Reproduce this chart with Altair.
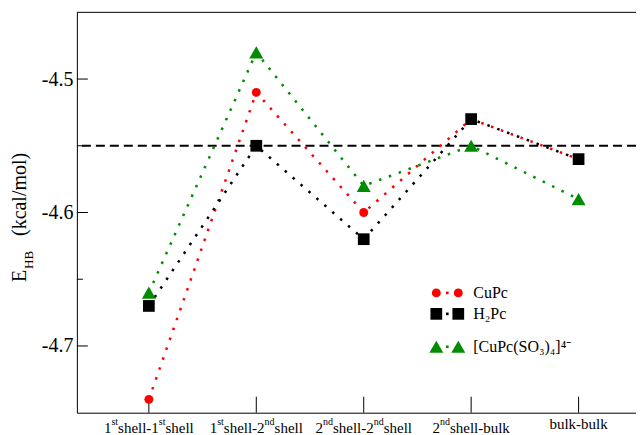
import re
import altair as alt
import pandas as pd

# ---- data ----
# text inside {} is a superscript
categories = ["1{st}shell-1{st}shell", "1{st}shell-2{nd}shell", "2{nd}shell-2{nd}shell",
              "2{nd}shell-bulk", "bulk-bulk"]
positions = [1, 2, 3, 4, 5]
series_names = ["CuPc", "H2Pc", "CuPc(SO3)4"]
legend_labels = ["CuPc", "H₂Pc", "[CuPc(SO₃)₄]⁴⁻"]
cupc = [-4.74, -4.51, -4.60, -4.53, -4.56]
h2pc = [-4.67, -4.55, -4.62, -4.53, -4.56]
cupc_so3 = [-4.66, -4.48, -4.58, -4.55, -4.59]
reference_value = [-4.55]
y_major = [-4.7, -4.6, -4.5]
y_minor = [-4.65, -4.55]
title_parts = ["E", "HB", "(kcal/mol)"]

# ---- styles ----
colors = ["#ff0000", "#000000", "#008c00"]
shapes = ["circle", "square", "triangle-up"]
sizes = [80, 196, 196]
FONT = "Liberation Serif"
W, H = 560, 401
LBL_FS, SUP_FS = 15, 10
# approximate Times advance widths (em) for measuring label segments
ADV = {'1': .5, '2': .5, 's': .389, 't': .278, 'n': .5, 'd': .5, 'h': .5, 'e': .444,
       'l': .278, '-': .333, 'b': .5, 'u': .5, 'k': .5}

values = [cupc, h2pc, cupc_so3]
rows = []
for name, vals in zip(series_names, values):
    for p, v in zip(positions, vals):
        rows.append({"series": name, "pos": p, "value": v})
df = pd.DataFrame(rows)

xscale = alt.Scale(domain=[0.33, 0.33 + W / 107.6], nice=False, zero=False)
yscale = alt.Scale(domain=[-4.75, -4.45], nice=False, zero=False)
cscale = alt.Scale(domain=series_names, range=colors)
sscale = alt.Scale(domain=series_names, range=shapes)
zscale = alt.Scale(domain=series_names, range=sizes)

x_axis = alt.Axis(values=positions, labels=False, ticks=False, tickSize=0,
                  domainColor="black", domainWidth=1, grid=False, title=None)
y_axis = alt.Axis(values=y_major, labelExpr="'-' + format(abs(datum.value), '.1f')",
                  ticks=False, tickSize=0, labelPadding=4, labelFont=FONT,
                  labelFontSize=20, labelColor="black", domainColor="black",
                  domainWidth=1, grid=False, title=None)


def X(field):
    return alt.X(field, scale=xscale, axis=x_axis, title=None)


def Y(field):
    return alt.Y(field, scale=yscale, axis=y_axis, title=None)


base = alt.Chart(df)

top_border = alt.Chart(pd.DataFrame({"a": [0]})).mark_rule(color="black", strokeWidth=1).encode(
    x=alt.value(0), x2=alt.value(W), y=alt.value(0))

ref_line = alt.Chart(pd.DataFrame({"v": reference_value})).mark_rule(
    color="black", strokeWidth=2, strokeDash=[9, 5]).encode(y=Y("v:Q"))

maj = alt.Chart(pd.DataFrame({"v": y_major})).mark_rule(color="black", strokeWidth=1).encode(
    y=Y("v:Q"), x=alt.value(0), x2=alt.value(11))
mino = alt.Chart(pd.DataFrame({"v": y_minor})).mark_rule(color="black", strokeWidth=1).encode(
    y=Y("v:Q"), x=alt.value(0), x2=alt.value(6))
xt = alt.Chart(pd.DataFrame({"p": positions})).mark_rule(color="black", strokeWidth=1).encode(
    x=X("p:Q"), y=alt.value(H), y2=alt.value(H - 16))

layers = [top_border, ref_line, maj, mino, xt]

for name in series_names:
    sub = base.transform_filter(alt.datum.series == name)
    line = sub.mark_line(strokeWidth=2.5, strokeDash=[2.5, 8], strokeCap="butt").encode(
        x=X("pos:Q"), y=Y("value:Q"),
        color=alt.Color("series:N", scale=cscale, legend=None),
        order=alt.Order("pos:Q"),
    )
    pts = sub.mark_point(filled=True, opacity=1).encode(
        x=X("pos:Q"), y=Y("value:Q"),
        color=alt.Color("series:N", scale=cscale, legend=None),
        shape=alt.Shape("series:N", scale=sscale, legend=None),
        size=alt.Size("series:N", scale=zscale, legend=None),
    )
    layers += [line, pts]

# ---- x tick labels with real superscripts (segment by segment) ----
seg_rows = []
for p, cat in zip(positions, categories):
    parts = [s for s in re.split(r"(\{[^}]*\})", cat) if s]
    segs = []
    for s in parts:
        sup = s.startswith("{")
        t = s.strip("{}")
        fs = SUP_FS if sup else LBL_FS
        segs.append((t, sup, sum(ADV.get(c, .5) for c in t) * fs))
    total = sum(s[2] for s in segs)
    has_sup = any(s[1] for s in segs)
    start = -total / 2
    for k, (t, sup, w) in enumerate(segs):
        seg_rows.append({"pos": p, "k": k, "seg": t, "sup": sup, "dx": start,
                         "has_sup": has_sup})
        start += w
seg_df = pd.DataFrame(seg_rows)
for r in seg_rows:
    baseline_y = 421 if r["has_sup"] else 417
    if r["sup"]:
        baseline_y -= 8
    layers.append(alt.Chart(seg_df).transform_filter(
        (alt.datum.pos == r["pos"]) & (alt.datum.k == r["k"])).mark_text(
        align="left", baseline="alphabetic", font=FONT,
        fontSize=SUP_FS if r["sup"] else LBL_FS, color="black", dx=r["dx"]).encode(
        x=X("pos:Q"), y=alt.value(baseline_y), text="seg:N"))

# ---- manual legend ----
legend_df = pd.DataFrame({"series": series_names, "label": legend_labels})
row_y = [281, 302, 335]
for name, ry in zip(series_names, row_y):
    lsub = alt.Chart(legend_df).transform_filter(alt.datum.series == name)
    for xv in (360, 382):
        layers.append(lsub.mark_point(filled=True, opacity=1).encode(
            x=alt.value(xv), y=alt.value(ry),
            color=alt.Color("series:N", scale=cscale, legend=None),
            shape=alt.Shape("series:N", scale=sscale, legend=None),
            size=alt.Size("series:N", scale=zscale, legend=None)))
    layers.append(lsub.mark_square(size=7, opacity=1).encode(
        x=alt.value(371), y=alt.value(ry),
        color=alt.Color("series:N", scale=cscale, legend=None)))
    layers.append(lsub.mark_text(align="left", baseline="middle", font=FONT,
                                 fontSize=16, color="black").encode(
        x=alt.value(397), y=alt.value(ry), text="label:N"))

# ---- composed y title ----
tdf = pd.DataFrame({"t": title_parts})
title_specs = [(0, 20, -51, 270), (1, 13, -44, 257), (2, 20, -51, 224)]
for idx, fs, tx, ty in title_specs:
    layers.append(alt.Chart(tdf).transform_filter(alt.datum.t == title_parts[idx]).mark_text(
        align="left", baseline="alphabetic", angle=270, font=FONT, fontSize=fs,
        color="black").encode(x=alt.value(tx), y=alt.value(ty), text="t:N"))

chart = alt.layer(*layers).properties(
    width=W, height=H,
    padding={"left": 69, "top": 4, "right": 0, "bottom": 22},
    autosize=alt.AutoSizeParams(type="none"),
).configure_view(stroke=None)

chart.save("out.html", embed_options={"renderer": "svg", "actions": False})
